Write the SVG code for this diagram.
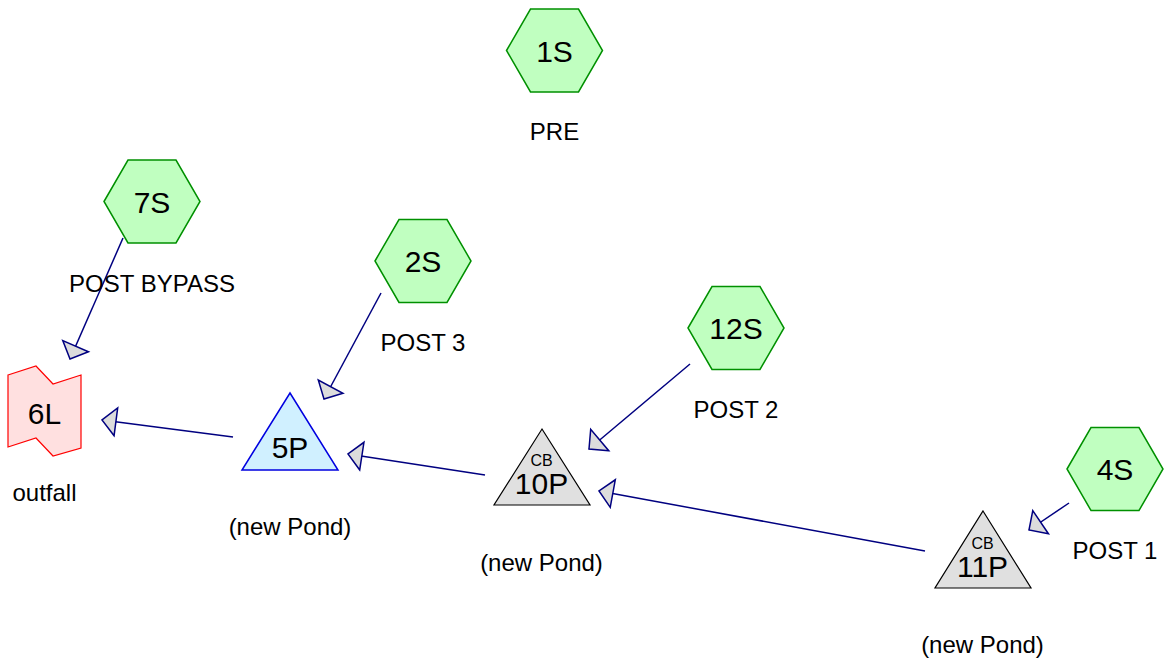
<svg xmlns="http://www.w3.org/2000/svg" width="1164" height="663" viewBox="0 0 1164 663">
<style>
text{font-family:"Liberation Sans",Arial,sans-serif;fill:#000;text-anchor:middle}
.lbl{font-size:24px}
.big{font-size:30px}
.cb{font-size:16px}
.hex{fill:#c0ffc0;stroke:#009000;stroke-width:1.5}
.pond{fill:#e0e0e0;stroke:#000;stroke-width:1.2}
.blue{fill:#d0f0ff;stroke:#0000e0;stroke-width:1.5}
.c{stroke:#000080;stroke-width:1.5;fill:none}
</style>
<defs>
<marker id="ah" markerUnits="userSpaceOnUse" viewBox="-2 -16 18 32" markerWidth="18" markerHeight="32" refX="14" refY="0" orient="auto">
<path d="M0,-14 L14,0 L0,14 Z" fill="#dcdcdc" stroke="#000080" stroke-width="1.5"/>
</marker>
<polygon id="hx" points="-48,0 -24,-41.5 24,-41.5 48,0 24,41.5 -24,41.5"/>
</defs>
<rect width="1164" height="663" fill="#fff"/>
<g id="connectors">
<line class="c" marker-end="url(#ah)" x1="123" y1="238" x2="70" y2="359"/>
<line class="c" marker-end="url(#ah)" x1="381" y1="293" x2="324" y2="399"/>
<line class="c" marker-end="url(#ah)" x1="690" y1="364" x2="589" y2="449"/>
<line class="c" marker-end="url(#ah)" x1="233" y1="437" x2="102" y2="420"/>
<line class="c" marker-end="url(#ah)" x1="485" y1="475" x2="348" y2="454"/>
<line class="c" marker-end="url(#ah)" x1="925" y1="551" x2="599" y2="491"/>
<line class="c" marker-end="url(#ah)" x1="1069" y1="503" x2="1029" y2="530"/>
</g>
<g id="n1S">
<use href="#hx" class="hex" x="554.5" y="50.5"/>
<text class="big" x="554.5" y="62">1S</text>
<text class="lbl" x="554.5" y="140">PRE</text>
</g>
<g id="n7S">
<use href="#hx" class="hex" x="152" y="201.5"/>
<text class="big" x="152" y="212.5">7S</text>
<text class="lbl" x="152" y="292">POST BYPASS</text>
</g>
<g id="n2S">
<use href="#hx" class="hex" x="423" y="261"/>
<text class="big" x="423" y="272">2S</text>
<text class="lbl" x="423" y="351">POST 3</text>
</g>
<g id="n12S">
<use href="#hx" class="hex" x="736" y="328"/>
<text class="big" x="736" y="339">12S</text>
<text class="lbl" x="736" y="418">POST 2</text>
</g>
<g id="n4S">
<use href="#hx" class="hex" x="1115" y="469"/>
<text class="big" x="1115" y="480">4S</text>
<text class="lbl" x="1115" y="559">POST 1</text>
</g>
<g id="n6L">
<polygon points="8,375 36,366 53,384 81,375 81,448 53,456 36,438 8,447" fill="#ffe0e0" stroke="#ff0000" stroke-width="1.2"/>
<text class="big" x="44.5" y="423.5">6L</text>
<text class="lbl" x="44.5" y="501">outfall</text>
</g>
<g id="n5P">
<polygon class="blue" points="290,393 338,470 242,470"/>
<text class="big" x="290" y="458">5P</text>
<text class="lbl" x="290" y="535">(new Pond)</text>
</g>
<g id="n10P">
<polygon class="pond" points="542,429 590,505 494,505"/>
<text class="cb" x="541.5" y="466">CB</text>
<text class="big" x="541.5" y="494">10P</text>
<text class="lbl" x="541.5" y="571">(new Pond)</text>
</g>
<g id="n11P">
<polygon class="pond" points="983,511 1031,588 935,588"/>
<text class="cb" x="982.5" y="549">CB</text>
<text class="big" x="982.5" y="577">11P</text>
<text class="lbl" x="982.5" y="653">(new Pond)</text>
</g>
</svg>
